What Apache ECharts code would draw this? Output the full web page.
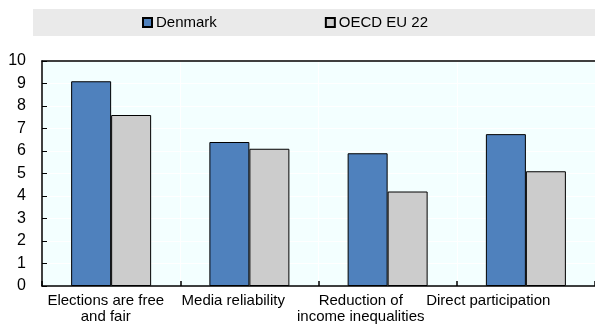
<!DOCTYPE html>
<html>
<head>
<meta charset="utf-8">
<script src="https://cdn.jsdelivr.net/npm/echarts@6/dist/echarts.min.js"></script>
<style>
  html, body { margin: 0; padding: 0; background: #ffffff; }
  #chart { width: 595px; height: 334px; }
</style>
</head>
<body>
<div id="chart"></div>
<script>
// Indicator categories (x axis)
const categories = [
  'Elections are free\nand fair',
  'Media reliability',
  'Reduction of\nincome inequalities',
  'Direct participation'
];
// Scores on a 0-10 scale
const denmark = [9.1, 6.4, 5.9, 6.75];
const oecdEu22 = [7.6, 6.1, 4.2, 5.1];
const seriesNames = ['Denmark', 'OECD EU 22'];
// Y axis scale
const yMin = 0, yMax = 10, yStep = 1;

const FONT = '"Liberation Sans", Arial, sans-serif';
const chart = echarts.init(document.getElementById('chart'), null, { renderer: 'canvas' });

chart.setOption({
  backgroundColor: '#ffffff',
  animation: false,
  graphic: [
    // legend band
    { type: 'rect', left: 33, top: 9, shape: { width: 562, height: 27 }, style: { fill: '#EAEAEA' }, z: -1 }
  ],
  legend: {
    data: seriesNames,
    left: 142,
    top: 15,
    padding: 0,
    itemWidth: 9,
    itemHeight: 9,
    itemGap: 108,
    textStyle: { fontFamily: FONT, fontSize: 15, color: '#000', padding: [0, 0, 0, -1] },
    icon: 'rect'
  },
  grid: [
    { left: 42, right: 0, top: 61, bottom: 48, show: true, backgroundColor: '#F3FFFF', borderWidth: 0 },
    { left: 42, right: 43, top: 61, bottom: 48, show: false }
  ],
  xAxis: [
    {
      type: 'category', gridIndex: 0, data: categories, position: 'bottom',
      axisLine: { show: true, lineStyle: { color: '#000', width: 1.5 } },
      axisTick: { show: true, inside: true, length: 5, lineStyle: { color: '#000', width: 1.5 } },
      axisLabel: { show: false },
      splitLine: { show: true, lineStyle: { color: '#ffffff', width: 1 } }
    },
    {
      type: 'category', gridIndex: 0, data: categories, position: 'top',
      axisLine: { show: true, lineStyle: { color: '#000', width: 1.5 } },
      axisTick: { show: false }, axisLabel: { show: false }, splitLine: { show: false }
    },
    {
      type: 'category', gridIndex: 1, data: categories, position: 'bottom',
      axisLine: { show: false }, axisTick: { show: false }, splitLine: { show: false },
      axisLabel: { show: true, interval: 0, margin: 7, fontFamily: FONT, fontSize: 15, lineHeight: 16, color: '#000' }
    }
  ],
  yAxis: [
    {
      type: 'value', gridIndex: 0, min: yMin, max: yMax, interval: yStep,
      axisLine: { show: true, lineStyle: { color: '#000', width: 1.5 } },
      axisTick: { show: true, inside: true, length: 5, lineStyle: { color: '#000', width: 1 } },
      axisLabel: { fontFamily: FONT, fontSize: 16, color: '#000', margin: 16 },
      splitLine: { show: true, lineStyle: { color: '#ffffff', width: 1 } }
    },
    { type: 'value', gridIndex: 1, min: yMin, max: yMax, show: false }
  ],
  series: [
    {
      name: seriesNames[0], type: 'bar', xAxisIndex: 0, yAxisIndex: 0,
      data: denmark, barWidth: 40, barGap: '0%',
      itemStyle: { color: '#4F81BD', borderColor: '#000', borderWidth: 1 }
    },
    {
      name: seriesNames[1], type: 'bar', xAxisIndex: 0, yAxisIndex: 0,
      data: oecdEu22, barWidth: 40, barGap: '0%',
      itemStyle: { color: '#CCCCCC', borderColor: '#000', borderWidth: 1 }
    }
  ]
});
</script>
</body>
</html>
